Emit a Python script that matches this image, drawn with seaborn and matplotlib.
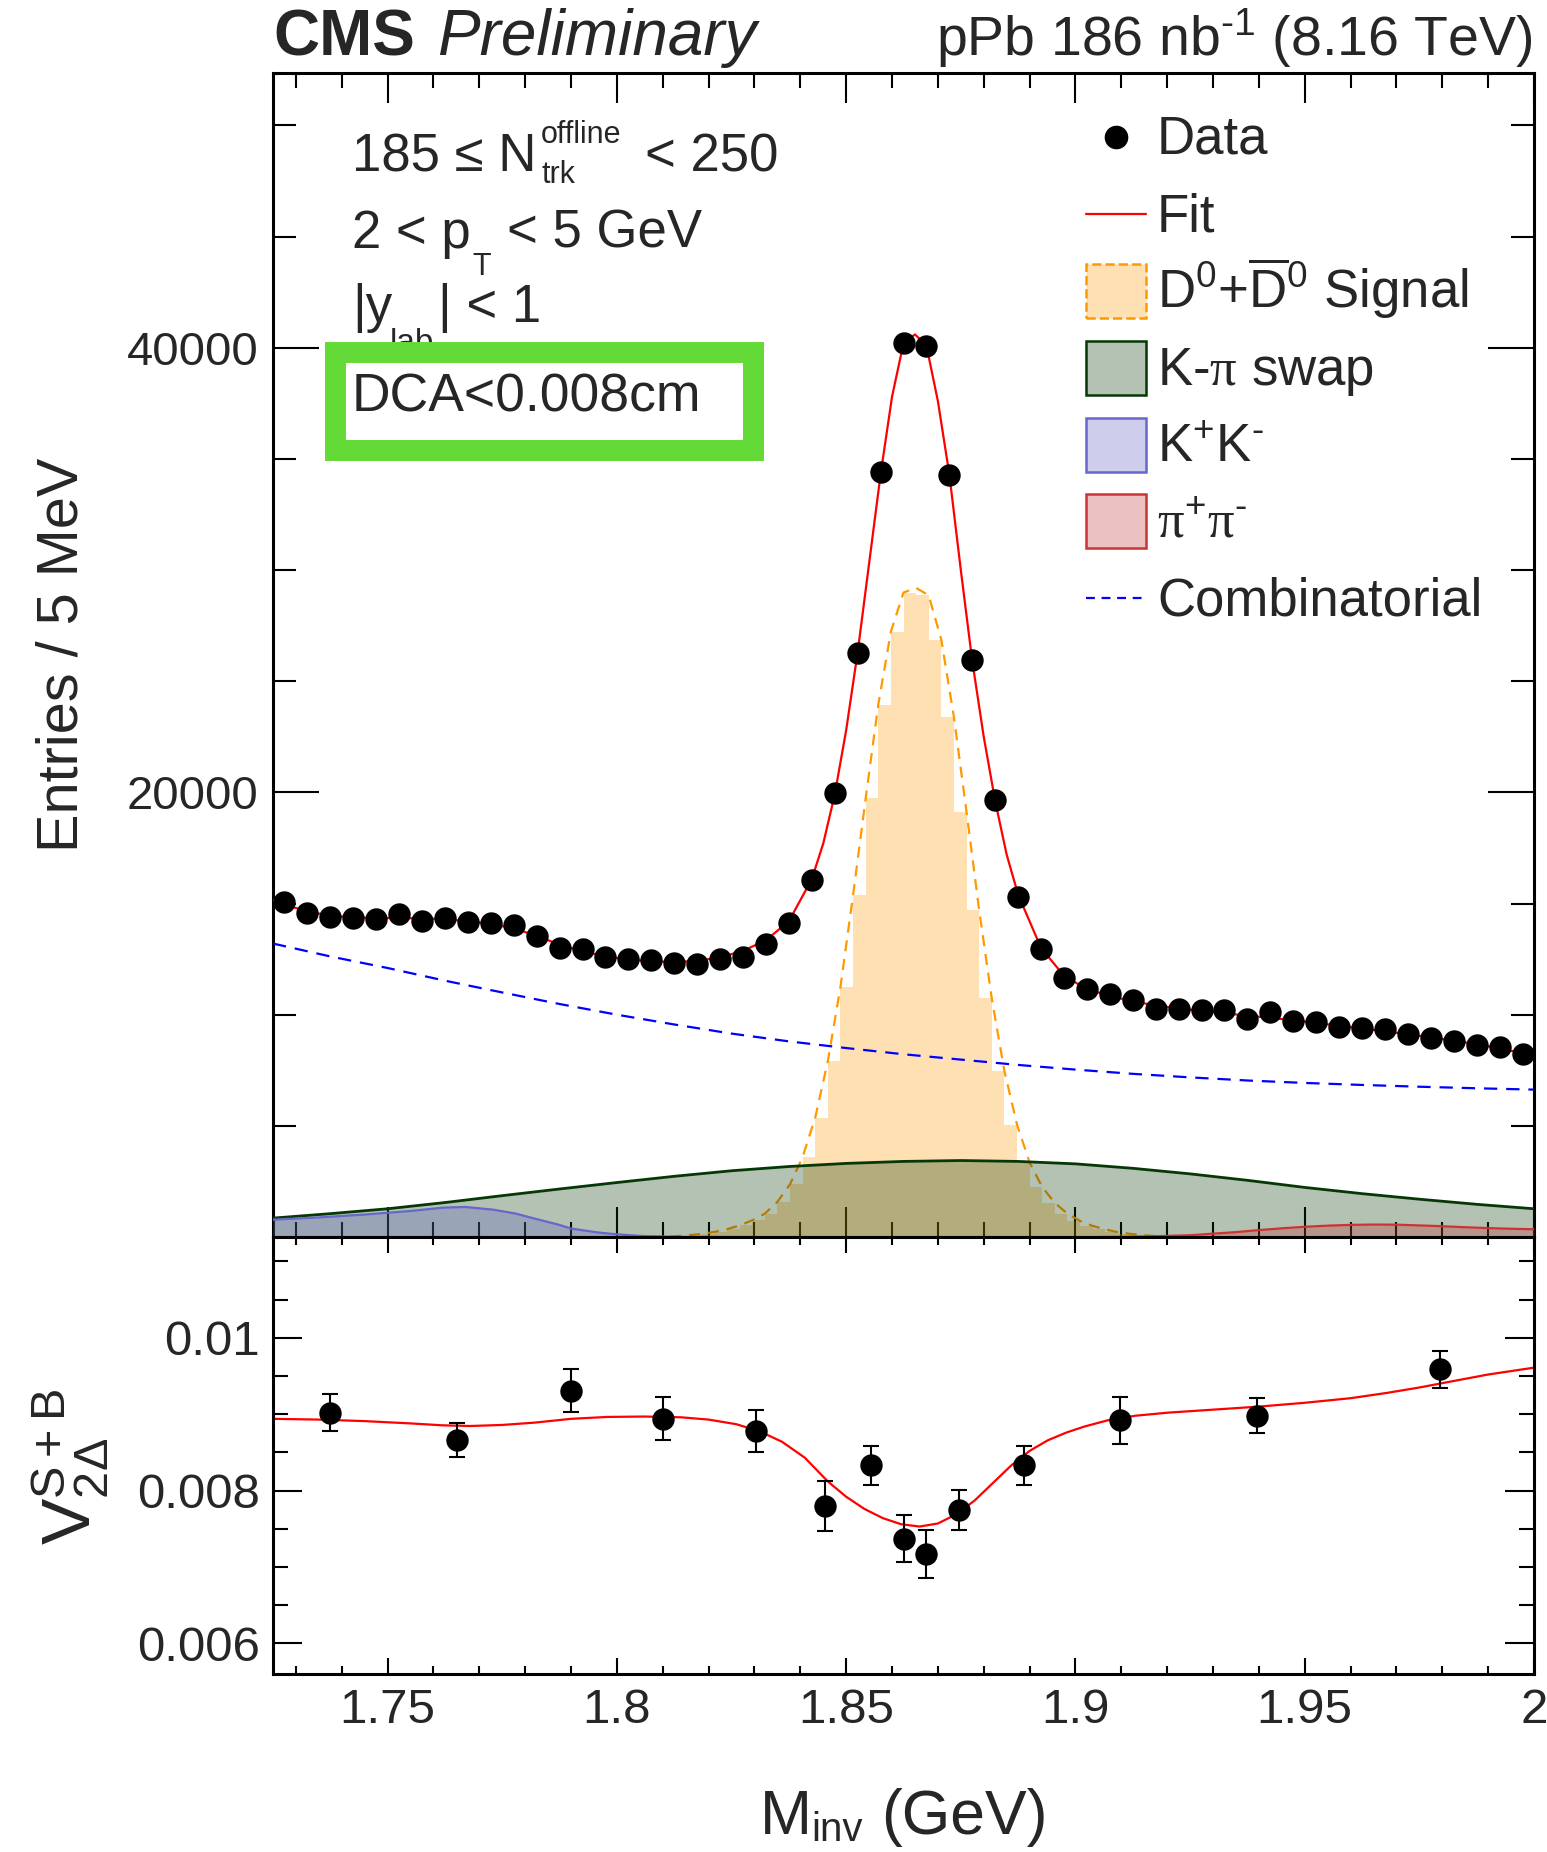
import numpy as np
import pandas as pd
import matplotlib
matplotlib.use("Agg")
import matplotlib.pyplot as plt
import seaborn as sns
from matplotlib.patches import Rectangle
from matplotlib.lines import Line2D
from matplotlib.ticker import FixedLocator, MultipleLocator, FuncFormatter

# ---------------- data ----------------
mass_bins = [1.7275, 1.7325, 1.7375, 1.7425, 1.7475, 1.7525, 1.7575, 1.7625, 1.7675, 1.7725,
             1.7775, 1.7825, 1.7875, 1.7925, 1.7975, 1.8025, 1.8075, 1.8125, 1.8175, 1.8225,
             1.8275, 1.8325, 1.8375, 1.8425, 1.8475, 1.8525, 1.8575, 1.8625, 1.8675, 1.8725,
             1.8775, 1.8825, 1.8875, 1.8925, 1.8975, 1.9025, 1.9075, 1.9125, 1.9175, 1.9225,
             1.9275, 1.9325, 1.9375, 1.9425, 1.9475, 1.9525, 1.9575, 1.9625, 1.9675, 1.9725,
             1.9775, 1.9825, 1.9875, 1.9925, 1.9975]
counts = [15070, 14580, 14400, 14330, 14300, 14520, 14220, 14350, 14170, 14130,
          14020, 13540, 13000, 12940, 12600, 12500, 12450, 12330, 12300, 12500,
          12600, 13170, 14130, 16050, 19990, 26290, 34400, 40220, 40080, 34260,
          25940, 19640, 15310, 12940, 11650, 11150, 10950, 10660, 10250, 10260,
          10230, 10200, 9810, 10100, 9720, 9650, 9450, 9400, 9370, 9130,
          8970, 8820, 8630, 8550, 8210]

fit_mass = [1.7250, 1.7275, 1.7325, 1.7375, 1.7425, 1.7475, 1.7525, 1.7575, 1.7625, 1.7675,
            1.7725, 1.7775, 1.7825, 1.7875, 1.7925, 1.7975, 1.8025, 1.8075, 1.8125, 1.8175,
            1.8225, 1.8275, 1.8325, 1.8375, 1.8425, 1.8450, 1.8475, 1.8500, 1.8525, 1.8550,
            1.8575, 1.8600, 1.8625, 1.8650, 1.8675, 1.8700, 1.8725, 1.8750, 1.8775, 1.8800,
            1.8825, 1.8850, 1.8875, 1.8925, 1.8975, 1.9025, 1.9075, 1.9125, 1.9175, 1.9225,
            1.9275, 1.9325, 1.9375, 1.9425, 1.9475, 1.9525, 1.9575, 1.9625, 1.9675, 1.9725,
            1.9775, 1.9825, 1.9875, 1.9925, 1.9975, 2.0000]
fit_val = [15150, 14950, 14650, 14450, 14380, 14350, 14350, 14330, 14300, 14200,
           14080, 13880, 13550, 13150, 12850, 12620, 12480, 12400, 12370, 12420,
           12580, 12870, 13350, 14200, 16100, 17700, 19900, 22800, 26300, 30300,
           34300, 37800, 40200, 40600, 40100, 37600, 34300, 30000, 25900, 22500,
           19600, 17200, 15400, 13000, 11750, 11150, 10850, 10600, 10420, 10280,
           10170, 10060, 9960, 9860, 9750, 9630, 9500, 9380, 9250, 9120,
           8980, 8830, 8670, 8480, 8270, 8170]

sig_mass = [1.8075, 1.81025, 1.813, 1.81575, 1.8185, 1.82125, 1.824, 1.82675, 1.8295, 1.83225,
            1.835, 1.83775, 1.8405, 1.84325, 1.846, 1.84875, 1.8515, 1.85425, 1.857, 1.85975,
            1.8625, 1.86525, 1.868, 1.87075, 1.8735, 1.87625, 1.879, 1.88175, 1.8845, 1.88725,
            1.89, 1.89275, 1.8955, 1.89825, 1.901, 1.90375, 1.9065, 1.90925, 1.912, 1.91475,
            1.9175, 1.92025, 1.923]
sig_val = [10, 20, 40, 80, 140, 230, 350, 520, 750, 1050,
           1580, 2370, 3600, 5370, 7910, 11250, 15370, 19730, 23950, 27230,
           28990, 29200, 28860, 26860, 23380, 19110, 14700, 10730, 7470, 5060,
           3350, 2250, 1530, 1050, 720, 500, 340, 220, 140, 80,
           40, 20, 10]

swap_mass = [1.725, 1.7375, 1.75, 1.7625, 1.775, 1.7875, 1.80, 1.8125, 1.825, 1.8375,
             1.85, 1.8625, 1.875, 1.8875, 1.90, 1.9125, 1.925, 1.9375, 1.95, 1.9625,
             1.975, 1.9875, 2.0]
swap_val = [850, 1050, 1270, 1550, 1860, 2160, 2450, 2730, 2980, 3170,
            3310, 3400, 3440, 3400, 3290, 3090, 2840, 2550, 2230, 1950,
            1700, 1470, 1270]

kk_mass = [1.725, 1.735, 1.745, 1.755, 1.762, 1.767, 1.773, 1.778, 1.782, 1.787,
           1.790, 1.796, 1.800, 1.805, 1.810, 1.815, 1.830]
kk_val = [780, 880, 1010, 1170, 1320, 1350, 1230, 1050, 830, 570,
          380, 200, 120, 50, 20, 5, 0]

pp_mass = [1.905, 1.915, 1.925, 1.930, 1.935, 1.940, 1.945, 1.950, 1.955, 1.960,
           1.965, 1.970, 1.978, 1.985, 1.990, 1.995, 2.0]
pp_val = [0, 20, 80, 150, 220, 310, 390, 460, 510, 545,
          560, 555, 500, 440, 400, 370, 350]

comb_mass = [1.725, 1.7375, 1.75, 1.7625, 1.775, 1.7875, 1.80, 1.8125, 1.825, 1.8375,
             1.85, 1.8625, 1.875, 1.8875, 1.90, 1.9125, 1.925, 1.9375, 1.95, 1.9625,
             1.975, 1.9875, 2.0]
comb_val = [13200, 12620, 12100, 11530, 11000, 10480, 10000, 9560, 9150, 8800,
            8500, 8220, 7980, 7740, 7530, 7340, 7180, 7040, 6930, 6840,
            6760, 6690, 6630]

v2_mass = [1.7375, 1.7651, 1.7900, 1.8100, 1.8304, 1.8453, 1.8555, 1.8625, 1.8674, 1.8746,
           1.8888, 1.9098, 1.9395, 1.9794]
v2_val = [0.00902, 0.00866, 0.00931, 0.00894, 0.00878, 0.00780, 0.00833, 0.00737, 0.00717, 0.00775,
          0.00833, 0.00892, 0.00898, 0.00959]
v2_err = [0.00024, 0.00022, 0.00028, 0.00028, 0.00028, 0.00033, 0.00026, 0.00031, 0.00031, 0.00026,
          0.00026, 0.00031, 0.00023, 0.00024]

v2fit_mass = [1.725, 1.735, 1.745, 1.755, 1.762, 1.768, 1.775, 1.782, 1.790, 1.798,
              1.806, 1.814, 1.820, 1.826, 1.831, 1.836, 1.841, 1.846, 1.850, 1.854,
              1.858, 1.862, 1.866, 1.870, 1.874, 1.878, 1.882, 1.886, 1.890, 1.894,
              1.898, 1.902, 1.907, 1.913, 1.920, 1.930, 1.940, 1.950, 1.960, 1.968,
              1.975, 1.982, 1.990, 2.000]
v2fit_val = [0.00894, 0.00893, 0.00891, 0.00888, 0.008855, 0.008846, 0.00886, 0.00889, 0.00894, 0.008965,
             0.00897, 0.00896, 0.00893, 0.00887, 0.00878, 0.00864, 0.00843, 0.00812, 0.00792, 0.00776,
             0.00764, 0.00756, 0.00753, 0.00757, 0.00769, 0.00787, 0.00810, 0.00833, 0.00852, 0.00866,
             0.00876, 0.00884, 0.00892, 0.00898, 0.00902, 0.00906, 0.00910, 0.00915, 0.00921, 0.00928,
             0.00935, 0.00943, 0.00952, 0.00961]

xticks_major = [1.75, 1.80, 1.85, 1.90, 1.95, 2.00]
xtick_labels = ["1.75", "1.8", "1.85", "1.9", "1.95", "2"]
ytop_major = [20000, 40000]
ytop_labels = ["20000", "40000"]
ybot_major = [0.006, 0.008, 0.010]
ybot_labels = ["0.006", "0.008", "0.01"]

legend_labels = ["Data", "Fit", r"D$^{0}$+$\overline{\mathrm{D}}^{0}$ Signal",
                 r"K-$\mathsf{\pi}$ swap", r"K$^{+}$K$^{\text{-}}$",
                 r"$\mathsf{\pi}^{+}\mathsf{\pi}^{\text{-}}$", "Combinatorial"]

# ---------------- style ----------------
sns.set_style("white")
plt.rcParams["font.family"] = ["Liberation Sans", "DejaVu Sans"]
plt.rcParams["mathtext.fontset"] = "custom"
plt.rcParams["mathtext.rm"] = "Liberation Sans"
plt.rcParams["mathtext.it"] = "Liberation Sans:italic"
plt.rcParams["mathtext.bf"] = "Liberation Sans:bold"
plt.rcParams["mathtext.sf"] = "Liberation Serif"
plt.rcParams["mathtext.default"] = "regular"

W, H = 1547, 1852
fig = plt.figure(figsize=(W / 100, H / 100), dpi=100)
fig.patch.set_facecolor("white")


def fx(x):
    return x / W


def fy(y):
    return 1 - y / H


ax1 = fig.add_axes([fx(273), fy(1237), (1534 - 273) / W, (1237 - 73) / H])
ax2 = fig.add_axes([fx(273), fy(1674), (1534 - 273) / W, (1674 - 1237) / H])

C_SIG = "#FF9900"
C_SWAP = "#063806"
C_KK_FILL = "#5F5FC3"
C_KK_LINE = "#6666CC"
C_PP_FILL = "#C03030"
C_PP_LINE = "#CC3333"

# ---------------- top panel ----------------
sig_x = np.array(sig_mass)
sig_y = np.array(sig_val, dtype=float)
step_h = np.minimum(sig_y[:-1], sig_y[1:])
ax1.fill_between(sig_x, np.append(step_h, step_h[-1]), 0, step="post",
                 color=C_SIG, alpha=0.3, linewidth=0, zorder=1)
sns.lineplot(x=sig_mass, y=sig_val, ax=ax1, color=C_SIG, linewidth=1.6,
             estimator=None, sort=False, legend=False, zorder=2)
ax1.lines[-1].set_dashes((5, 3.5))

ax1.fill_between(swap_mass, swap_val, 0, color=C_SWAP, alpha=0.3, linewidth=0, zorder=3)
sns.lineplot(x=swap_mass, y=swap_val, ax=ax1, color=C_SWAP, linewidth=2.0,
             estimator=None, sort=False, legend=False, zorder=4)

ax1.fill_between(kk_mass, kk_val, 0, color=C_KK_FILL, alpha=0.3, linewidth=0, zorder=4)
sns.lineplot(x=kk_mass, y=kk_val, ax=ax1, color=C_KK_LINE, linewidth=1.6,
             estimator=None, sort=False, legend=False, zorder=4)

ax1.fill_between(pp_mass, pp_val, 0, color=C_PP_FILL, alpha=0.3, linewidth=0, zorder=4)
sns.lineplot(x=pp_mass, y=pp_val, ax=ax1, color=C_PP_LINE, linewidth=1.6,
             estimator=None, sort=False, legend=False, zorder=4)

sns.lineplot(x=comb_mass, y=comb_val, ax=ax1, color="#0000FF", linewidth=1.6,
             estimator=None, sort=False, legend=False, zorder=5)
ax1.lines[-1].set_dashes((6, 4))

sns.lineplot(x=fit_mass, y=fit_val, ax=ax1, color="#FF0000", linewidth=1.6,
             estimator=None, sort=False, legend=False, zorder=6)
sns.scatterplot(x=mass_bins, y=counts, ax=ax1, color="black", s=260, linewidth=0,
                legend=False, zorder=7)

ax1.set_xlim(1.725, 2.0)
ax1.set_ylim(0, 52360)

# ---------------- bottom panel ----------------
ax2.errorbar(v2_mass, v2_val, yerr=v2_err, fmt="none", ecolor="black",
             elinewidth=1.5, capsize=5.5, capthick=1.5, zorder=3)
sns.lineplot(x=v2fit_mass, y=v2fit_val, ax=ax2, color="#FF0000", linewidth=1.6,
             estimator=None, sort=False, legend=False, zorder=2)
sns.scatterplot(x=v2_mass, y=v2_val, ax=ax2, color="black", s=260, linewidth=0,
                legend=False, zorder=4)
ax2.set_xlim(1.725, 2.0)
ax2.set_ylim(0.0056, 0.01132)

# ---------------- axes styling ----------------
for ax in (ax1, ax2):
    ax.set_xlabel("")
    ax.set_ylabel("")
    for sp in ax.spines.values():
        sp.set_linewidth(2.2)
        sp.set_color("black")
        sp.set_visible(True)
    ax.xaxis.set_major_locator(FixedLocator(xticks_major))
    ax.xaxis.set_minor_locator(MultipleLocator(0.01))
    ax.tick_params(which="both", direction="in", top=True, bottom=True,
                   left=True, right=True, width=1.5, color="black")

ax1.tick_params(axis="x", which="major", length=21.6, labelbottom=False)
ax1.tick_params(axis="x", which="minor", length=10.8)
ax1.tick_params(axis="y", which="major", length=33, labelsize=34, pad=10.5)
ax1.tick_params(axis="y", which="minor", length=16.6)
ax1.yaxis.set_major_locator(FixedLocator(ytop_major))
ax1.yaxis.set_major_formatter(FuncFormatter(lambda v, p: ytop_labels[ytop_major.index(int(round(v)))]))
ax1.yaxis.set_minor_locator(FixedLocator([5000, 10000, 15000, 25000, 30000, 35000, 45000, 50000]))

ax2.tick_params(axis="x", which="major", length=11.5, labelsize=35.5, pad=10)
ax2.tick_params(axis="x", which="minor", length=5.8)
ax2.tick_params(axis="y", which="major", length=21, labelsize=35.5, pad=9.5)
ax2.tick_params(axis="y", which="minor", length=10.8)
ax2.xaxis.set_major_formatter(FuncFormatter(lambda v, p: xtick_labels[int(round((v - 1.75) / 0.05))]))
ax2.yaxis.set_major_locator(FixedLocator(ybot_major))
ax2.yaxis.set_major_formatter(FuncFormatter(lambda v, p: ybot_labels[int(round((v - 0.006) / 0.002))]))
ax2.yaxis.set_minor_locator(FixedLocator([0.0065, 0.007, 0.0075, 0.0085, 0.009, 0.0095,
                                          0.0105, 0.011]))

# ---------------- texts ----------------
fig.text(fx(273), fy(55), "CMS", fontsize=46, fontweight="bold", va="baseline", ha="left")
fig.text(fx(437), fy(55), "Preliminary", fontsize=46, fontstyle="italic", va="baseline", ha="left")
fig.text(fx(1533), fy(56), r"pPb 186 nb$^{\text{-}1}$ (8.16 TeV)", fontsize=40, va="baseline", ha="right")

# ROOT-style labels with low subscripts / high superscripts
fig.text(fx(352), fy(172), "185 ≤ N", fontsize=38, va="baseline")
fig.text(fx(541), fy(143), "offline", fontsize=22, va="baseline")
fig.text(fx(541), fy(183), "trk", fontsize=22, va="baseline")
fig.text(fx(645), fy(172), "< 250", fontsize=38, va="baseline")

fig.text(fx(352), fy(248), "2 < p", fontsize=38, va="baseline")
fig.text(fx(472), fy(275), "T", fontsize=22, va="baseline")
fig.text(fx(507), fy(248), "< 5 GeV", fontsize=38, va="baseline")

fig.text(fx(352), fy(322), "|y", fontsize=38, va="baseline")
fig.text(fx(390), fy(352), "lab", fontsize=24, va="baseline")
fig.text(fx(438), fy(322), "| < 1", fontsize=38, va="baseline")

box = Rectangle((fx(334.5), fy(449.7)), (752.5 - 334.5) / W, (449.7 - 351.7) / H,
                transform=fig.transFigure, facecolor="white", edgecolor="#63DA38",
                linewidth=15.1, zorder=10)
fig.add_artist(box)
fig.text(fx(352), fy(411), "DCA<0.008cm", fontsize=38.5, va="baseline", zorder=11)

fig.text(fx(78), fy(655), "Entries / 5 MeV", fontsize=41.5, rotation=90,
         rotation_mode="anchor", ha="center", va="baseline")
fig.text(fx(91), fy(1467), r"V$_{2\Delta}^{\mathrm{S+B}}$", fontsize=50, rotation=90,
         rotation_mode="anchor", ha="center", va="baseline")

# x-axis title, ROOT-style low subscript
fig.text(fx(760), fy(1834), "M", fontsize=45, ha="left", va="baseline")
fig.text(fx(811), fy(1841), "inv", fontsize=29, ha="left", va="baseline")
fig.text(fx(881), fy(1834), "(GeV)", fontsize=45, ha="left", va="baseline")

# ---------------- legend (manual) ----------------
row_c = [137, 214, 291, 368, 445, 521, 598]
tx = fx(1157)
for lab, c in zip(legend_labels, row_c):
    fig.text(tx, fy(c + 17), lab, fontsize=38, va="baseline", ha="left")

fig.add_artist(Line2D([fx(1116)], [fy(row_c[0])], marker="o", markersize=16,
                      color="black", linestyle="none", transform=fig.transFigure))
fig.add_artist(Line2D([fx(1086), fx(1146)], [fy(row_c[1])] * 2, color="#FF0000",
                      linewidth=1.6, transform=fig.transFigure))
bw, bh = 60, 54
box_specs = [
    (row_c[2], C_SIG, C_SIG, "--"),
    (row_c[3], C_SWAP, C_SWAP, "-"),
    (row_c[4], C_KK_FILL, C_KK_LINE, "-"),
    (row_c[5], C_PP_FILL, C_PP_LINE, "-"),
]
for c, fc, ec, ls in box_specs:
    fig.add_artist(Rectangle((fx(1086), fy(c + bh / 2)), bw / W, bh / H,
                             transform=fig.transFigure,
                             facecolor=matplotlib.colors.to_rgba(fc, 0.3),
                             edgecolor=ec, linewidth=1.8, linestyle=ls))
fig.add_artist(Line2D([fx(1086), fx(1146)], [fy(row_c[6])] * 2, color="#0000FF",
                      linewidth=1.6, dashes=(4, 3), transform=fig.transFigure))

fig.savefig("out.png", dpi=100)
